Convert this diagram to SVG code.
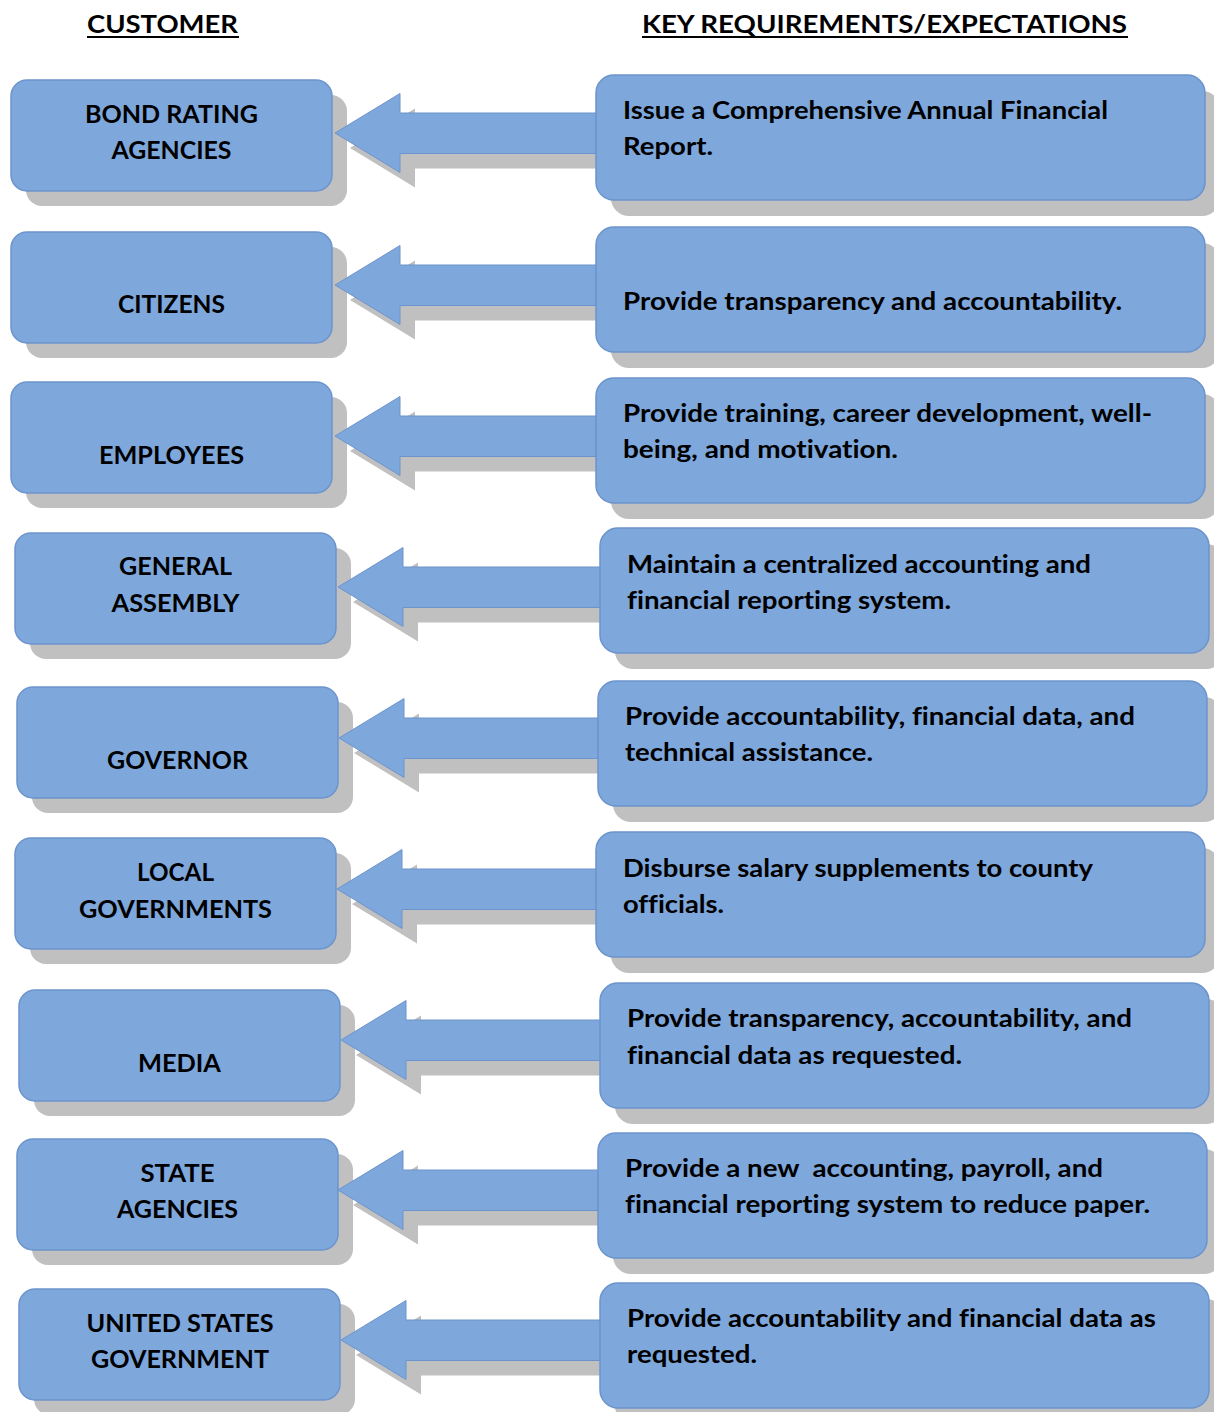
<svg xmlns="http://www.w3.org/2000/svg" xmlns:xlink="http://www.w3.org/1999/xlink" width="1214" height="1412" viewBox="0 0 1214 1412">
<style>
  .box { fill: #7EA7DC; stroke: #6C94CC; stroke-width: 1.5; }
  .shadow { fill: #C0C0C0; }
  .arrow { fill: #7EA7DC; stroke: #6C94CC; stroke-width: 1; }
  .ashadow { fill: #C0C0C0; }
  text { font-family: Lato, "Open Sans", "Liberation Sans", sans-serif; font-weight: 700; font-size: 24px; fill: #000; font-variant-ligatures: none; }
  .lbl { text-anchor: middle; }
  .hdr { font-size: 25px; }
  .ul { stroke: #000; stroke-width: 2; }
</style>
<defs>
  <path id="arrowShape" d="M0,0 L65,-39.5 L65,-20 L275,-20 L275,20.5 L65,20.5 L65,39.5 Z"/>
</defs>
<rect width="1214" height="1412" fill="#FFFFFF"/>

<g id="headers">
  <text class="hdr" x="87" y="33" textLength="151" lengthAdjust="spacingAndGlyphs">CUSTOMER</text>
  <line class="ul" x1="87" y1="37" x2="239" y2="37"/>
  <text class="hdr" x="642" y="33" textLength="485" lengthAdjust="spacingAndGlyphs">KEY REQUIREMENTS/EXPECTATIONS</text>
  <line class="ul" x1="642" y1="37" x2="1128" y2="37"/>
</g>

<!-- Customer nodes -->
<g id="cust-bond">
  <rect class="shadow" x="26" y="95" width="321" height="111" rx="16"/>
  <rect class="box" x="11" y="80" width="321" height="111" rx="16"/>
  <text class="lbl" x="171.5" y="122.5" textLength="173" lengthAdjust="spacingAndGlyphs">BOND RATING</text>
  <text class="lbl" x="171.5" y="158.5" textLength="120" lengthAdjust="spacingAndGlyphs">AGENCIES</text>
</g>
<g id="cust-citizens">
  <rect class="shadow" x="26" y="247" width="321" height="111" rx="16"/>
  <rect class="box" x="11" y="232" width="321" height="111" rx="16"/>
  <text class="lbl" x="171.5" y="313" textLength="107" lengthAdjust="spacingAndGlyphs">CITIZENS</text>
</g>
<g id="cust-employees">
  <rect class="shadow" x="26" y="397" width="321" height="111" rx="16"/>
  <rect class="box" x="11" y="382" width="321" height="111" rx="16"/>
  <text class="lbl" x="171.5" y="464" textLength="145" lengthAdjust="spacingAndGlyphs">EMPLOYEES</text>
</g>
<g id="cust-assembly">
  <rect class="shadow" x="30" y="548" width="321" height="111" rx="16"/>
  <rect class="box" x="15" y="533" width="321" height="111" rx="16"/>
  <text class="lbl" x="175.5" y="575" textLength="113" lengthAdjust="spacingAndGlyphs">GENERAL</text>
  <text class="lbl" x="175.5" y="611.5" textLength="128" lengthAdjust="spacingAndGlyphs">ASSEMBLY</text>
</g>
<g id="cust-governor">
  <rect class="shadow" x="32" y="702" width="321" height="111" rx="16"/>
  <rect class="box" x="17" y="687" width="321" height="111" rx="16"/>
  <text class="lbl" x="177.5" y="768.5" textLength="141" lengthAdjust="spacingAndGlyphs">GOVERNOR</text>
</g>
<g id="cust-local">
  <rect class="shadow" x="30" y="853" width="321" height="111" rx="16"/>
  <rect class="box" x="15" y="838" width="321" height="111" rx="16"/>
  <text class="lbl" x="175.5" y="881" textLength="77" lengthAdjust="spacingAndGlyphs">LOCAL</text>
  <text class="lbl" x="175.5" y="917.5" textLength="193" lengthAdjust="spacingAndGlyphs">GOVERNMENTS</text>
</g>
<g id="cust-media">
  <rect class="shadow" x="34" y="1005" width="321" height="111" rx="16"/>
  <rect class="box" x="19" y="990" width="321" height="111" rx="16"/>
  <text class="lbl" x="179.5" y="1072" textLength="83" lengthAdjust="spacingAndGlyphs">MEDIA</text>
</g>
<g id="cust-state">
  <rect class="shadow" x="32" y="1154" width="321" height="111" rx="16"/>
  <rect class="box" x="17" y="1139" width="321" height="111" rx="16"/>
  <text class="lbl" x="177.5" y="1182" textLength="74" lengthAdjust="spacingAndGlyphs">STATE</text>
  <text class="lbl" x="177.5" y="1218" textLength="121" lengthAdjust="spacingAndGlyphs">AGENCIES</text>
</g>
<g id="cust-usgov">
  <rect class="shadow" x="34" y="1304" width="321" height="111" rx="16"/>
  <rect class="box" x="19" y="1289" width="321" height="111" rx="16"/>
  <text class="lbl" x="180" y="1332" textLength="187" lengthAdjust="spacingAndGlyphs">UNITED STATES</text>
  <text class="lbl" x="180" y="1368" textLength="178" lengthAdjust="spacingAndGlyphs">GOVERNMENT</text>
</g>

<!-- Connectors -->
<g id="connectors">
  <use href="#arrowShape" class="ashadow" transform="translate(350,148)"/>
  <use href="#arrowShape" class="arrow" transform="translate(335,133)"/>
  <use href="#arrowShape" class="ashadow" transform="translate(350,300)"/>
  <use href="#arrowShape" class="arrow" transform="translate(335,285)"/>
  <use href="#arrowShape" class="ashadow" transform="translate(350,451)"/>
  <use href="#arrowShape" class="arrow" transform="translate(335,436)"/>
  <use href="#arrowShape" class="ashadow" transform="translate(353,602)"/>
  <use href="#arrowShape" class="arrow" transform="translate(338,587)"/>
  <use href="#arrowShape" class="ashadow" transform="translate(354,753)"/>
  <use href="#arrowShape" class="arrow" transform="translate(339,738)"/>
  <use href="#arrowShape" class="ashadow" transform="translate(352,904)"/>
  <use href="#arrowShape" class="arrow" transform="translate(337,889)"/>
  <use href="#arrowShape" class="ashadow" transform="translate(356,1055)"/>
  <use href="#arrowShape" class="arrow" transform="translate(341,1040)"/>
  <use href="#arrowShape" class="ashadow" transform="translate(353,1205)"/>
  <use href="#arrowShape" class="arrow" transform="translate(338,1190)"/>
  <use href="#arrowShape" class="ashadow" transform="translate(356,1355)"/>
  <use href="#arrowShape" class="arrow" transform="translate(341,1340)"/>
</g>

<!-- Requirement nodes -->
<g id="req-bond">
  <rect class="shadow" x="611" y="91" width="609" height="125" rx="18"/>
  <rect class="box" x="596" y="75" width="609" height="125" rx="18"/>
  <text x="623" y="118.5" textLength="485" lengthAdjust="spacingAndGlyphs">Issue a Comprehensive Annual Financial</text>
  <text x="623" y="154.5" textLength="90" lengthAdjust="spacingAndGlyphs">Report.</text>
</g>
<g id="req-citizens">
  <rect class="shadow" x="611" y="243" width="609" height="125" rx="18"/>
  <rect class="box" x="596" y="227" width="609" height="125" rx="18"/>
  <text x="623" y="309.5" textLength="499" lengthAdjust="spacingAndGlyphs">Provide transparency and accountability.</text>
</g>
<g id="req-employees">
  <rect class="shadow" x="611" y="394" width="609" height="125" rx="18"/>
  <rect class="box" x="596" y="378" width="609" height="125" rx="18"/>
  <text x="623" y="421.5" textLength="529" lengthAdjust="spacingAndGlyphs">Provide training, career development, well-</text>
  <text x="623" y="457.5" textLength="275" lengthAdjust="spacingAndGlyphs">being, and motivation.</text>
</g>
<g id="req-assembly">
  <rect class="shadow" x="615" y="544" width="609" height="125" rx="18"/>
  <rect class="box" x="600" y="528" width="609" height="125" rx="18"/>
  <text x="627" y="572.5" textLength="464" lengthAdjust="spacingAndGlyphs">Maintain a centralized accounting and</text>
  <text x="627" y="608.5" textLength="324" lengthAdjust="spacingAndGlyphs">financial reporting system.</text>
</g>
<g id="req-governor">
  <rect class="shadow" x="613" y="697" width="609" height="125" rx="18"/>
  <rect class="box" x="598" y="681" width="609" height="125" rx="18"/>
  <text x="625" y="725" textLength="510" lengthAdjust="spacingAndGlyphs">Provide accountability, financial data, and</text>
  <text x="625" y="761" textLength="248" lengthAdjust="spacingAndGlyphs">technical assistance.</text>
</g>
<g id="req-local">
  <rect class="shadow" x="611" y="848" width="609" height="125" rx="18"/>
  <rect class="box" x="596" y="832" width="609" height="125" rx="18"/>
  <text x="623" y="876.5" textLength="470" lengthAdjust="spacingAndGlyphs">Disburse salary supplements to county</text>
  <text x="623" y="912.5" textLength="101" lengthAdjust="spacingAndGlyphs">officials.</text>
</g>
<g id="req-media">
  <rect class="shadow" x="615" y="999" width="609" height="125" rx="18"/>
  <rect class="box" x="600" y="983" width="609" height="125" rx="18"/>
  <text x="627" y="1027" textLength="505" lengthAdjust="spacingAndGlyphs">Provide transparency, accountability, and</text>
  <text x="627" y="1063.5" textLength="335" lengthAdjust="spacingAndGlyphs">financial data as requested.</text>
</g>
<g id="req-state">
  <rect class="shadow" x="613" y="1149" width="609" height="125" rx="18"/>
  <rect class="box" x="598" y="1133" width="609" height="125" rx="18"/>
  <text x="625" y="1177" style="white-space:pre" textLength="478" lengthAdjust="spacingAndGlyphs">Provide a new  accounting, payroll, and</text>
  <text x="625" y="1213" textLength="525" lengthAdjust="spacingAndGlyphs">financial reporting system to reduce paper.</text>
</g>
<g id="req-usgov">
  <rect class="shadow" x="615" y="1299" width="609" height="125" rx="18"/>
  <rect class="box" x="600" y="1283" width="609" height="125" rx="18"/>
  <text x="627" y="1327" textLength="529" lengthAdjust="spacingAndGlyphs">Provide accountability and financial data as</text>
  <text x="627" y="1363" textLength="130" lengthAdjust="spacingAndGlyphs">requested.</text>
</g>
</svg>
